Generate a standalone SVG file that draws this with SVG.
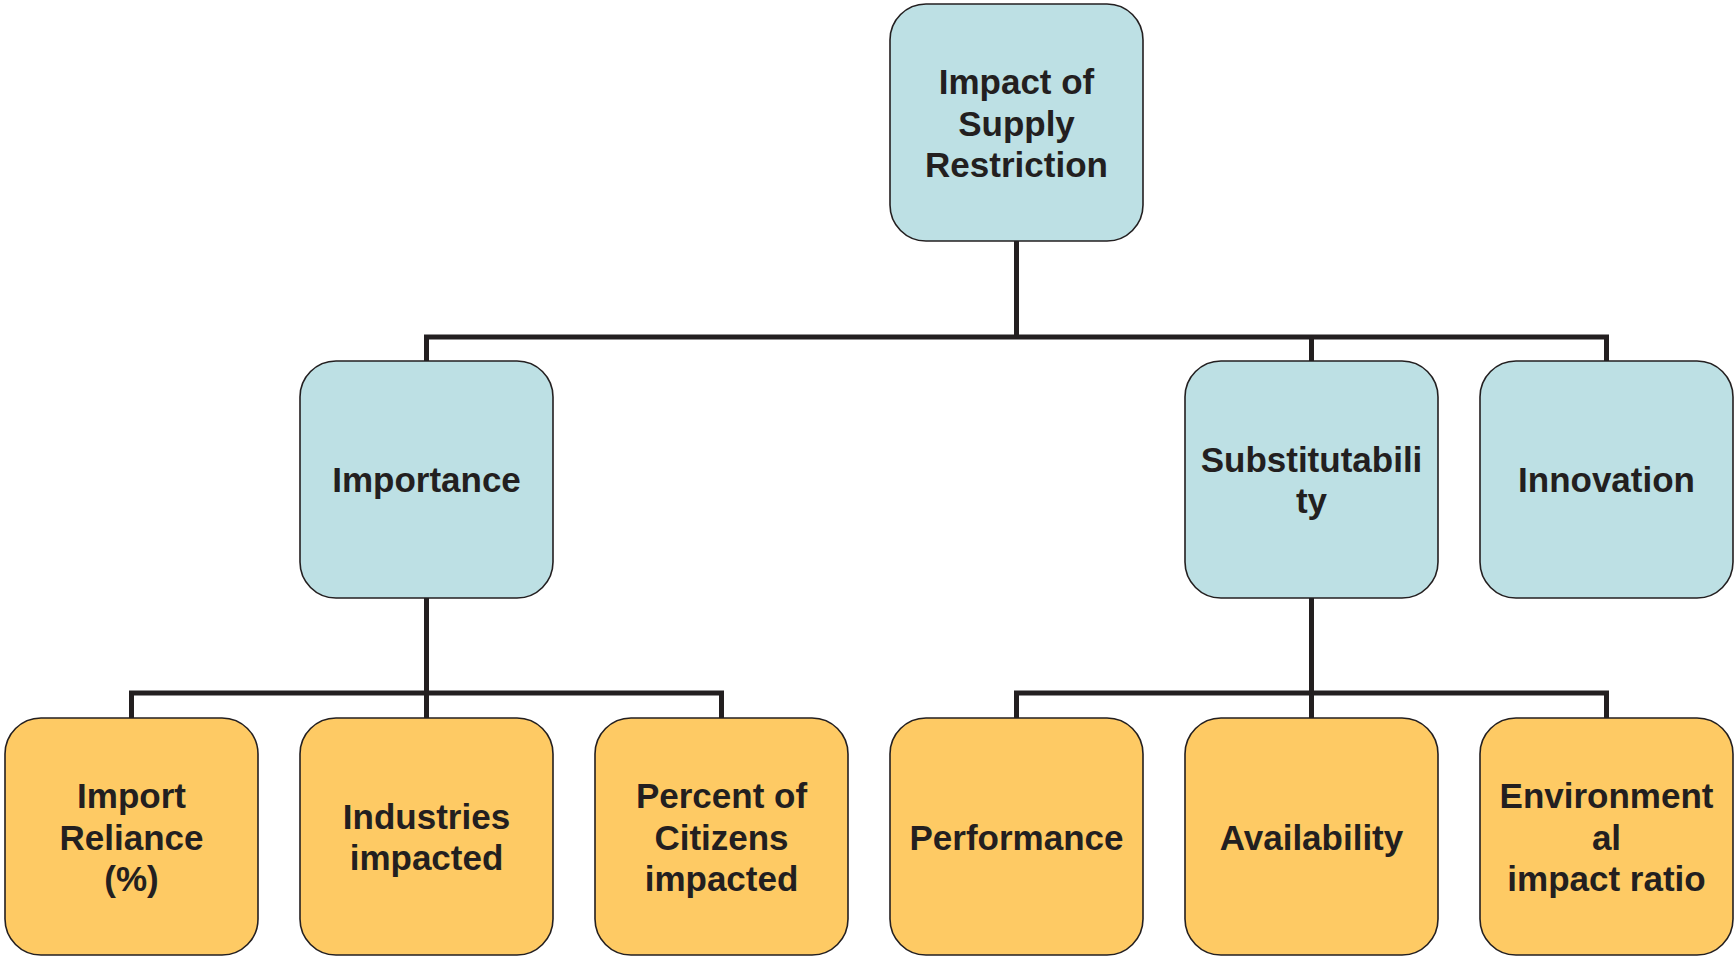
<svg xmlns="http://www.w3.org/2000/svg" width="1735" height="958" viewBox="0 0 1735 958">
<style>
.conn{fill:none;stroke:#231F20;stroke-width:5;stroke-linejoin:miter;stroke-linecap:butt}
.blue{fill:#BDE0E4;stroke:#231F20;stroke-width:1.6}
.orange{fill:#FECA64;stroke:#231F20;stroke-width:1.6}
text{font-family:"Liberation Sans",Arial,sans-serif;font-weight:bold;font-size:35px;fill:#231F20;text-anchor:middle}
</style>
<rect width="1735" height="958" fill="#FFFFFF"/>
<g id="connectors">
<path class="conn" d="M1016.5,241 V337 M426.5,337 H1606.5 M426.5,334.5 V361 M1311.5,334.5 V361 M1606.5,334.5 V361"/>
<path class="conn" d="M426.5,598 V693 M131.5,693 H721.5 M131.5,690.5 V718 M426.5,690.5 V718 M721.5,690.5 V718"/>
<path class="conn" d="M1311.5,598 V693 M1016.5,693 H1606.5 M1016.5,690.5 V718 M1311.5,690.5 V718 M1606.5,690.5 V718"/>
</g>
<g id="root">
<rect class="blue" x="890" y="4" width="253" height="237" rx="36"/>
<text x="1016.5" y="94">Impact of</text>
<text x="1016.5" y="135.5">Supply</text>
<text x="1016.5" y="177">Restriction</text>
</g>
<g id="importance">
<rect class="blue" x="300" y="361" width="253" height="237" rx="36"/>
<text x="426.5" y="492">Importance</text>
</g>
<g id="substitutability">
<rect class="blue" x="1185" y="361" width="253" height="237" rx="36"/>
<text x="1311.5" y="472">Substitutabili</text>
<text x="1311.5" y="513">ty</text>
</g>
<g id="innovation">
<rect class="blue" x="1480" y="361" width="253" height="237" rx="36"/>
<text x="1606.5" y="492">Innovation</text>
</g>
<g id="import-reliance">
<rect class="orange" x="5" y="718" width="253" height="237" rx="36"/>
<text x="131.5" y="808">Import</text>
<text x="131.5" y="849.5">Reliance</text>
<text x="131.5" y="891">(%)</text>
</g>
<g id="industries">
<rect class="orange" x="300" y="718" width="253" height="237" rx="36"/>
<text x="426.5" y="829">Industries</text>
<text x="426.5" y="870">impacted</text>
</g>
<g id="percent-citizens">
<rect class="orange" x="595" y="718" width="253" height="237" rx="36"/>
<text x="721.5" y="808">Percent of</text>
<text x="721.5" y="849.5">Citizens</text>
<text x="721.5" y="891">impacted</text>
</g>
<g id="performance">
<rect class="orange" x="890" y="718" width="253" height="237" rx="36"/>
<text x="1016.5" y="849.5">Performance</text>
</g>
<g id="availability">
<rect class="orange" x="1185" y="718" width="253" height="237" rx="36"/>
<text x="1311.5" y="849.5">Availability</text>
</g>
<g id="environmental">
<rect class="orange" x="1480" y="718" width="253" height="237" rx="36"/>
<text x="1606.5" y="808">Environment</text>
<text x="1606.5" y="849.5">al</text>
<text x="1606.5" y="891">impact ratio</text>
</g>
</svg>
